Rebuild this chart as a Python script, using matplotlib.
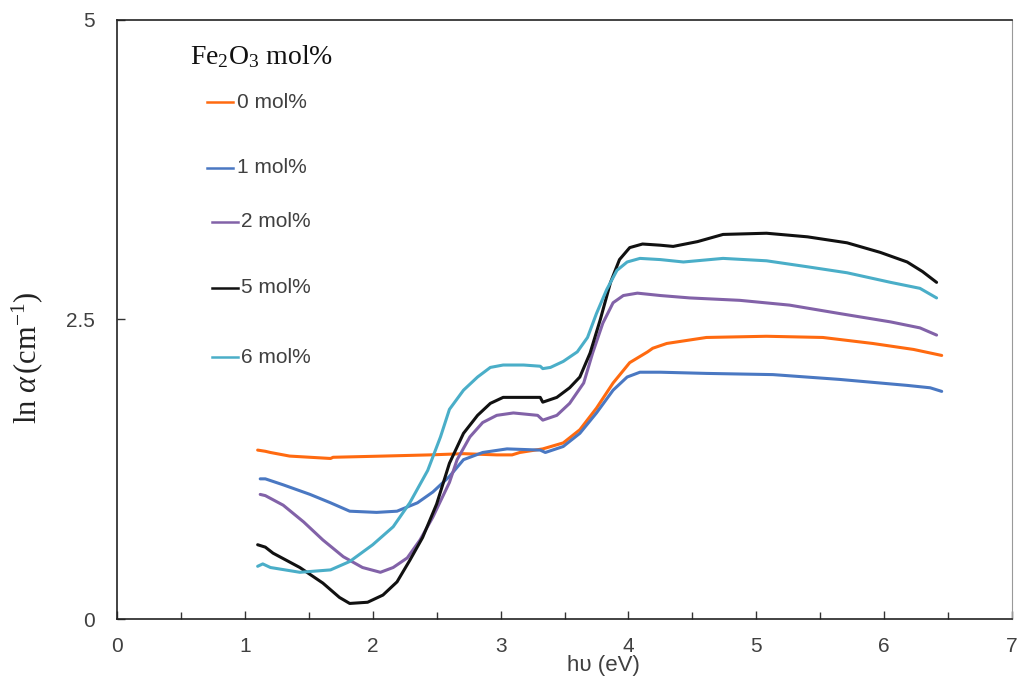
import numpy as np
import matplotlib

matplotlib.use("Agg")
import matplotlib.pyplot as plt
from matplotlib.lines import Line2D
from matplotlib.ticker import MultipleLocator

plt.rcParams["font.family"] = ["Liberation Sans", "DejaVu Sans"]
plt.rcParams["mathtext.fontset"] = "custom"
plt.rcParams["mathtext.rm"] = "Liberation Serif"
plt.rcParams["mathtext.it"] = "Liberation Serif:italic"

# Photon energy (eV) and ln(alpha) along each absorption curve.
x_0 = [1.10, 1.16, 1.20, 1.35, 1.67, 1.69, 2.08, 2.45, 2.71, 2.97, 3.09, 3.15,
       3.33, 3.49, 3.62, 3.75, 3.88, 4.01, 4.15, 4.19, 4.30, 4.61, 5.08, 5.52,
       5.91, 6.23, 6.45]
y_0 = [1.41, 1.40, 1.39, 1.36, 1.34, 1.35, 1.36, 1.37, 1.38, 1.37, 1.37, 1.39,
       1.42, 1.47, 1.58, 1.76, 1.97, 2.14, 2.23, 2.26, 2.30, 2.35, 2.36, 2.35,
       2.30, 2.25, 2.20]

x_1 = [1.12, 1.16, 1.30, 1.51, 1.67, 1.82, 2.03, 2.19, 2.35, 2.47, 2.60, 2.71,
       2.86, 3.05, 3.31, 3.35, 3.49, 3.62, 3.75, 3.88, 3.99, 4.09, 4.25, 4.61,
       5.13, 5.65, 6.18, 6.36, 6.45]
y_1 = [1.17, 1.17, 1.12, 1.04, 0.97, 0.90, 0.89, 0.90, 0.97, 1.06, 1.19, 1.33,
       1.39, 1.42, 1.41, 1.39, 1.44, 1.55, 1.72, 1.91, 2.02, 2.06, 2.06, 2.05,
       2.04, 2.00, 1.95, 1.93, 1.90]

x_2 = [1.12, 1.16, 1.30, 1.46, 1.61, 1.77, 1.92, 2.06, 2.16, 2.27, 2.37, 2.47,
       2.60, 2.66, 2.76, 2.86, 2.97, 3.10, 3.29, 3.33, 3.44, 3.54, 3.65, 3.72,
       3.80, 3.88, 3.96, 4.07, 4.25, 4.48, 4.87, 5.26, 5.65, 6.05, 6.28, 6.41]
y_2 = [1.04, 1.03, 0.95, 0.81, 0.66, 0.52, 0.43, 0.39, 0.43, 0.51, 0.66, 0.85,
       1.14, 1.33, 1.52, 1.64, 1.70, 1.72, 1.70, 1.66, 1.70, 1.80, 1.97, 2.22,
       2.47, 2.64, 2.70, 2.72, 2.70, 2.68, 2.66, 2.62, 2.55, 2.48, 2.43, 2.37]

x_5 = [1.10, 1.16, 1.22, 1.43, 1.61, 1.74, 1.82, 1.96, 2.08, 2.19, 2.29, 2.39,
       2.50, 2.60, 2.71, 2.82, 2.92, 3.02, 3.18, 3.31, 3.33, 3.44, 3.54,
       3.62, 3.70, 3.78, 3.86, 3.93, 4.01, 4.11, 4.25, 4.35, 4.54, 4.74, 5.08,
       5.40, 5.71, 5.97, 6.18, 6.30, 6.41]
y_5 = [0.62, 0.60, 0.55, 0.43, 0.30, 0.18, 0.13, 0.14, 0.20, 0.31, 0.49, 0.68,
       0.96, 1.30, 1.55, 1.70, 1.80, 1.85, 1.85, 1.85, 1.81, 1.85, 1.93,
       2.02, 2.22, 2.50, 2.81, 3.00, 3.10, 3.13, 3.12, 3.11, 3.15, 3.21, 3.22,
       3.19, 3.14, 3.06, 2.98, 2.90, 2.81]

x_6 = [1.10, 1.14, 1.20, 1.43, 1.67, 1.82, 2.00, 2.16, 2.29, 2.43, 2.53, 2.60,
       2.71, 2.82, 2.92, 3.02, 3.18, 3.31, 3.33, 3.39, 3.49, 3.60, 3.68, 3.75,
       3.83, 3.91, 3.99, 4.09, 4.25, 4.43, 4.74, 5.08, 5.40, 5.71, 6.05, 6.28,
       6.41]
y_6 = [0.44, 0.46, 0.43, 0.39, 0.41, 0.48, 0.62, 0.77, 0.97, 1.24, 1.52, 1.75,
       1.91, 2.02, 2.10, 2.12, 2.12, 2.11, 2.09, 2.10, 2.15, 2.23, 2.35, 2.55,
       2.75, 2.91, 2.98, 3.01, 3.00, 2.98, 3.01, 2.99, 2.94, 2.89, 2.81, 2.76,
       2.68]

labels = ["0 mol%", "1 mol%", "2 mol%", "5 mol%", "6 mol%"]
colors = ["#ff6a10", "#4a78c2", "#8262a8", "#111111", "#4aaec8"]
series = [(x_0, y_0), (x_1, y_1), (x_2, y_2), (x_5, y_5), (x_6, y_6)]

fig = plt.figure(figsize=(10.21, 6.84), dpi=100)
ax = fig.add_axes([0.1146, 0.0950, 0.8766, 0.8758])

for (xs, ys), c in zip(series, colors):
    ax.plot(xs, ys, color=c, lw=2.2, solid_capstyle="round",
            solid_joinstyle="round")

ax.set_xlim(0, 7)
ax.set_ylim(0, 5)
ax.set_xticks(range(0, 8))
ax.xaxis.set_minor_locator(MultipleLocator(0.5))
ax.set_yticks([0, 2.5, 5])
ax.set_yticklabels(["0", "2.5", "5"])
ax.tick_params(axis="both", which="both", direction="in", labelsize=15,
               colors="#333333", labelcolor="#404040")
ax.tick_params(axis="both", which="major", length=6, width=1)
ax.tick_params(axis="x", which="minor", length=5, width=1)
ax.tick_params(axis="x", pad=13)
ax.tick_params(axis="y", pad=16)
for side in ["left", "bottom", "top"]:
    ax.spines[side].set_color("#222222")
    ax.spines[side].set_linewidth(1.2)
ax.spines["right"].set_color("#999999")

ax.text(0.544, -0.077, "h\u03c5 (eV)", transform=ax.transAxes, ha="center",
        va="center", fontsize=16, color="#404040")
fig.text(0.027, 0.477, r"$\mathrm{ln}\ \mathit{\alpha}\,\mathrm{(cm^{-1})}$",
         rotation=90, ha="center", va="center", fontsize=22, color="#222222")

# legend drawn by hand to keep the uneven spacing between entries
ax.text(0.0816, 0.938, r"$\mathrm{Fe_2O_3\ mol\%}$", transform=ax.transAxes,
        fontsize=20, va="center", ha="left", color="#111111")
legend_y = [0.863, 0.753, 0.663, 0.553, 0.437]
legend_x0 = [0.1006, 0.1006, 0.106, 0.106, 0.106]
for lab, c, yy, x0 in zip(labels, colors, legend_y, legend_x0):
    ax.add_line(Line2D([x0, x0 + 0.029], [yy, yy], transform=ax.transAxes,
                       color=c, lw=1.8))
    ax.text(x0 + 0.033, yy, lab, transform=ax.transAxes, fontsize=15,
            va="center", ha="left", color="#404040")

fig.savefig("out.png", dpi=100)
